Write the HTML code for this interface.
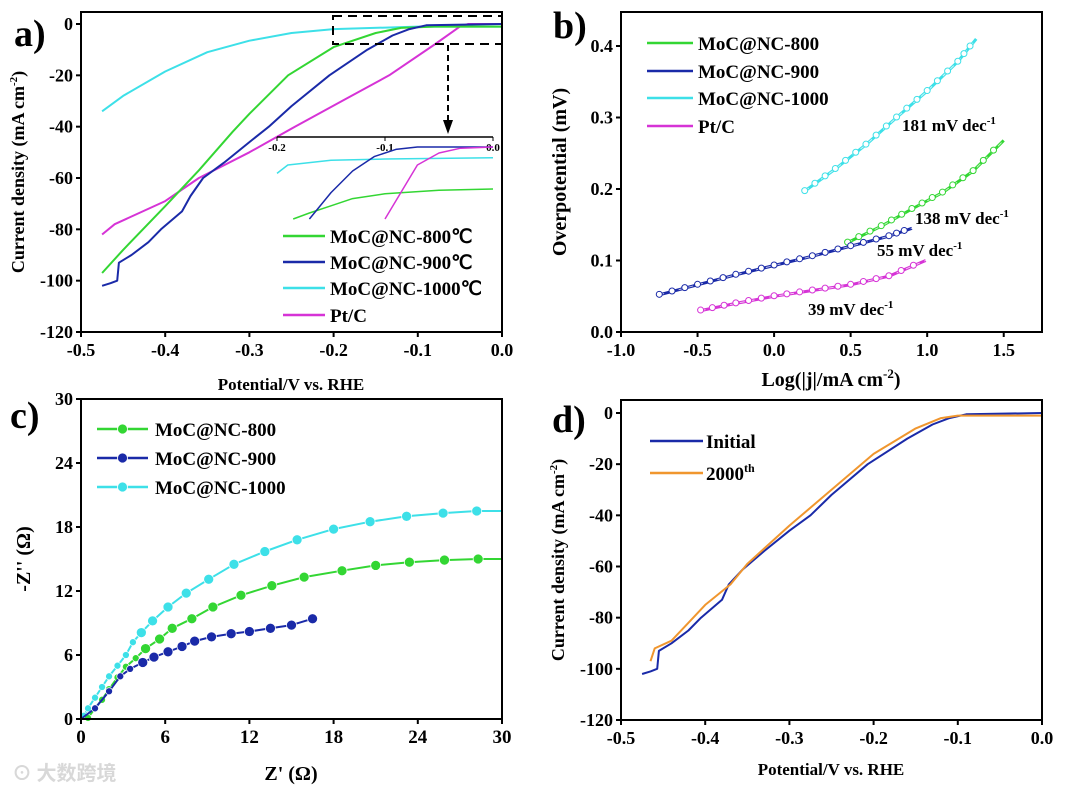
<!DOCTYPE html>
<html><head><meta charset="utf-8"><style>
html,body{margin:0;padding:0;background:#fff}
svg{display:block;font-family:"Liberation Serif",serif;font-weight:bold}
</style></head><body>
<svg id="s" width="1080" height="791" viewBox="0 0 1080 791" xmlns="http://www.w3.org/2000/svg"></svg>
<script>
// ---- Panel a data ----
const aGreenX=[-0.475,-0.45,-0.4,-0.36,-0.32,-0.3,-0.254,-0.2,-0.15,-0.12,-0.08,0];
const aGreenY=[-97,-88,-71,-57,-42,-35,-20,-9,-3.5,-1.5,-1,-1];
const aBlueX=[-0.475,-0.465,-0.457,-0.455,-0.44,-0.42,-0.405,-0.38,-0.37,-0.355,-0.33,-0.3,-0.277,-0.25,-0.205,-0.16,-0.13,-0.11,-0.09,0];
const aBlueY=[-102,-101,-100,-93,-90,-85,-80,-73,-67,-60,-54,-46,-40,-32,-20,-10,-4.5,-2,-0.5,0];
const aCyanX=[-0.475,-0.45,-0.4,-0.35,-0.3,-0.25,-0.2,-0.1,0];
const aCyanY=[-34,-28,-18.5,-11,-6.5,-3.5,-2,-1,-1];
const aPtX=[-0.475,-0.46,-0.44,-0.4,-0.36,-0.3,-0.246,-0.19,-0.134,-0.08,-0.05,-0.04,0];
const aPtY=[-82,-78,-75,-69,-60,-50,-40,-30,-20,-8,-1,0,0];
const aXTicks=[-0.5,-0.4,-0.3,-0.2,-0.1,0.0];
const aXLabels=["-0.5","-0.4","-0.3","-0.2","-0.1","0.0"];
const aYTicks=[0,-20,-40,-60,-80,-100,-120];
// inset
const inBlueX=[-0.17,-0.15,-0.13,-0.11,-0.09,-0.07,0];
const inBlueY=[-6,-3.8,-2,-0.8,-0.2,0,0];
const inCyanX=[-0.2,-0.19,-0.15,-0.1,0];
const inCyanY=[-2.2,-1.5,-1.1,-1,-0.9];
const inGreenX=[-0.185,-0.17,-0.15,-0.13,-0.1,-0.05,0];
const inGreenY=[-6,-5.5,-4.9,-4.3,-3.9,-3.6,-3.5];
const inPtX=[-0.1,-0.09,-0.08,-0.07,-0.05,-0.03,0];
const inPtY=[-6,-4.5,-3,-1.5,-0.5,-0.1,0];
// ---- Panel b data ----
const bCyanX=[0.2,0.4,0.6,0.8,1.0,1.2,1.32];
const bCyanY=[0.197,0.228,0.262,0.300,0.337,0.378,0.41];
const bGreenX=[0.48,0.7,0.9,1.1,1.3,1.5];
const bGreenY=[0.125,0.148,0.172,0.195,0.225,0.268];
const bBlueX=[-0.75,-0.5,-0.25,0,0.25,0.5,0.75,0.9];
const bBlueY=[0.052,0.066,0.08,0.093,0.106,0.12,0.134,0.145];
const bPtX=[-0.48,-0.25,0,0.25,0.5,0.75,0.99];
const bPtY=[0.03,0.04,0.05,0.058,0.066,0.078,0.1];
const bXTicks=[-1.0,-0.5,0.0,0.5,1.0,1.5];
const bYTicks=[0.0,0.1,0.2,0.3,0.4];
// ---- Panel c data ----
const cCyanX=[0.2,0.5,1,1.5,2,2.6,3.2,3.7,4.3,5.1,6.2,7.5,9.1,10.9,13.1,15.4,18,20.6,23.2,25.8,28.2];
const cCyanY=[0.3,1,2,3,4,5,6,7.2,8.1,9.2,10.5,11.8,13.1,14.5,15.7,16.8,17.8,18.5,19,19.3,19.5];
const cGreenX=[0.5,1,1.5,2,2.6,3.2,3.9,4.6,5.6,6.5,7.9,9.4,11.4,13.6,15.9,18.6,21,23.4,25.9,28.3];
const cGreenY=[0.1,1,1.8,2.8,3.9,4.9,5.7,6.6,7.5,8.5,9.4,10.5,11.6,12.5,13.3,13.9,14.4,14.7,14.9,15];
const cBlueX=[1,2,2.8,3.5,4.4,5.2,6.2,7.2,8.1,9.3,10.7,12,13.5,15,16.5];
const cBlueY=[1,2.6,4,4.7,5.3,5.8,6.3,6.8,7.3,7.7,8,8.2,8.5,8.8,9.4];
const cTicks=[0,6,12,18,24,30];
// ---- Panel d data ----
const dInitX=[-0.475,-0.465,-0.457,-0.455,-0.44,-0.42,-0.405,-0.38,-0.372,-0.355,-0.33,-0.3,-0.275,-0.25,-0.207,-0.16,-0.13,-0.11,-0.09,0];
const dInitY=[-102,-101,-100,-93,-90,-85,-80,-73,-67,-61,-54,-46,-40,-32,-20,-10,-4.5,-2,-0.5,0];
const dCycX=[-0.465,-0.46,-0.44,-0.42,-0.4,-0.37,-0.35,-0.3,-0.25,-0.2,-0.15,-0.12,-0.1,0];
const dCycY=[-97,-92,-89,-82,-75,-67,-59,-44,-30,-16,-6,-2,-1,-1];

const NS="http://www.w3.org/2000/svg";
const svg=document.getElementById('s');
function mk(tag,attrs,parent){const e=document.createElementNS(NS,tag);for(const k in attrs)e.setAttribute(k,attrs[k]);(parent||svg).appendChild(e);return e;}
function txt(x,y,s,size,anchor,parent){const t=mk('text',{x:x,y:y,'font-size':size,'text-anchor':anchor||'start'},parent);t.textContent=s;return t;}
function scale(d0,d1,r0,r1){return v=>r0+(v-d0)/(d1-d0)*(r1-r0);}
function line(X,Y,sx,sy,color,w,name,extra){
  const d=X.map((x,i)=>(i?'L':'M')+sx(x).toFixed(1)+','+sy(Y[i]).toFixed(1)).join('');
  const p=mk('path',Object.assign({d:d,fill:'none',stroke:color,'stroke-width':w,'stroke-linejoin':'round'},extra||{}));
  
  
  return p;
}
function frame(L,R,T,B,name){
  const r=mk('rect',{x:L,y:T,width:R-L,height:B-T,fill:'none',stroke:'#000','stroke-width':2});
  
  
}
function xaxis(ticks,labels,sx,B,size){
  ticks.forEach((t,i)=>{mk('line',{x1:sx(t),x2:sx(t),y1:B,y2:B+5,stroke:'#000','stroke-width':2});
    const l=txt(sx(t),B+24,labels[i],size||18,'middle');
    
    });
}
function yaxis(ticks,labels,sy,L){
  ticks.forEach((t,i)=>{mk('line',{x1:L-5,x2:L,y1:sy(t),y2:sy(t),stroke:'#000','stroke-width':2});
    const l=txt(L-8,sy(t)+6,labels[i],18,'end');
    
    });
}
function legend(x1,x2,y,color,label,tx,size,marker){
  const g=mk('g',{});
  
  
  mk('line',{x1:x1,x2:x2,y1:y,y2:y,stroke:color,'stroke-width':2.5},g);
  if(marker) mk('circle',{cx:(x1+x2)/2,cy:y,r:5,fill:color,stroke:'#fff','stroke-width':0.8},g);
  txt(tx,y+7,label,size||19,'start',g);
  return g;
}
function ytitle(x,y,s,size){const t=txt(0,0,s,size||18,'middle');t.setAttribute('transform',`translate(${x},${y}) rotate(-90)`);return t;}

// ===== Panel a =====
{const L=81,R=502,T=12,B=332;
 const sx=scale(-0.5,0,L,R), sy=scale(0,-120,24,B);
 line(aCyanX,aCyanY,sx,sy,'#3de0e8',2,'series-moc-1000');
 line(aPtX,aPtY,sx,sy,'#d633d6',2,'series-ptc');
 line(aGreenX,aGreenY,sx,sy,'#33d633',2,'series-moc-800');
 line(aBlueX,aBlueY,sx,sy,'#1a2aa8',2,'series-moc-900');
 // inset
 const ix=scale(-0.2,0,277,493), iy=scale(0,-6,147,219);
 mk('line',{x1:277,x2:493,y1:137,y2:137,stroke:'#000','stroke-width':1.5});
 [-0.2,-0.1,0].forEach((t,i)=>{mk('line',{x1:ix(t),x2:ix(t),y1:137,y2:141,stroke:'#000','stroke-width':1});
   txt(ix(t),151,["-0.2","-0.1","0.0"][i],11,'middle');});
 line(inCyanX,inCyanY,ix,iy,'#3de0e8',1.5,'inset-moc-1000');
 line(inGreenX,inGreenY,ix,iy,'#33d633',1.5,'inset-moc-800');
 line(inBlueX,inBlueY,ix,iy,'#1a2aa8',1.5,'inset-moc-900');
 line(inPtX,inPtY,ix,iy,'#d633d6',1.5,'inset-ptc');
 const db=mk('rect',{x:333,y:16,width:169,height:28,fill:'none',stroke:'#000','stroke-width':2,'stroke-dasharray':'9,6'});
 
 
 mk('line',{x1:448,x2:448,y1:45,y2:122,stroke:'#000','stroke-width':2,'stroke-dasharray':'6,4'});
 mk('polygon',{points:'443,120 453,120 448,134',fill:'#000'});
 frame(L,R,T,B,'plot-area-a');
 xaxis(aXTicks,aXLabels,sx,B);
 yaxis(aYTicks,aYTicks.map(String),sy,L);
 legend(283,325,236,'#33d633','MoC@NC-800℃',330);
 legend(283,325,262,'#1a2aa8','MoC@NC-900℃',330);
 legend(283,325,288,'#3de0e8','MoC@NC-1000℃',330);
 legend(283,325,315,'#d633d6','Pt/C',330);
 txt(291,390,'Potential/V vs. RHE',17,'middle');
 const yt=ytitle(24,172,'',18);yt.innerHTML='Current density (mA cm<tspan dy="-7" font-size="11">-2</tspan><tspan dy="7">)</tspan>';
 txt(14,46,'a)',38,'start');
}
// ===== Panel b =====
{const L=621,R=1042,T=12,B=332;
 const sx=scale(-1,1.75,L,R), sy=scale(0,0.4,B,46);
 [[bCyanX,bCyanY,'#3de0e8','moc-1000'],[bGreenX,bGreenY,'#33d633','moc-800'],[bBlueX,bBlueY,'#1a2aa8','moc-900'],[bPtX,bPtY,'#d633d6','ptc']].forEach(s=>{
   line(s[0],s[1],sx,sy,s[2],3,'tafel-'+s[3]);
   line(s[0],s[1],sx,sy,'#ffffff',1,'tafel-fit-'+s[3],{'stroke-dasharray':'5,5','opacity':0.7});
   const n=s[0].length;
   for(let i=0;i<n-1;i++){for(let k=0;k<3;k++){const f=k/3;
     const c=mk('circle',{cx:sx(s[0][i]+(s[0][i+1]-s[0][i])*f),cy:sy(s[1][i]+(s[1][i+1]-s[1][i])*f)-0.5,r:3,fill:'#fff',stroke:s[2],'stroke-width':1});
     
     }}
 });
 frame(L,R,T,B,'plot-area-b');
 xaxis(bXTicks,["-1.0","-0.5","0.0","0.5","1.0","1.5"],sx,B);
 yaxis(bYTicks,["0.0","0.1","0.2","0.3","0.4"],sy,L);
 legend(647,693,43,'#33d633','MoC@NC-800',698);
 legend(647,693,71,'#1a2aa8','MoC@NC-900',698);
 legend(647,693,98,'#3de0e8','MoC@NC-1000',698);
 legend(647,693,126,'#d633d6','Pt/C',698);
 const ann=[[902,131,'181'],[915,224,'138'],[877,256,'55'],[808,315,'39']];
 ann.forEach(a=>{const t=txt(a[0],a[1],'',17,'start');t.innerHTML=a[2]+' mV dec<tspan dy="-7" font-size="11">-1</tspan>';
   
   });
 const xt=txt(831,386,'',20,'middle');xt.innerHTML='Log(|j|/mA cm<tspan dy="-8" font-size="13">-2</tspan><tspan dy="8">)</tspan>';
 ytitle(566,172,'Overpotential (mV)',20);
 txt(553,38,'b)',38,'start');
}
// ===== Panel c =====
{const L=81,R=502,T=399,B=719;
 const sx=scale(0,30,L,R), sy=scale(0,30,B,T);
 [[cCyanX,cCyanY,'#3de0e8','moc-1000'],[cGreenX,cGreenY,'#33d633','moc-800'],[cBlueX,cBlueY,'#1a2aa8','moc-900']].forEach(s=>{
   line([0].concat(s[0]).concat(s[3]==='moc-900'?[]:[30]),[0].concat(s[1]).concat(s[3]==='moc-900'?[]:[s[1][s[1].length-1]]),sx,sy,s[2],2,'nyquist-'+s[3]);
   s[0].forEach((x,i)=>{const c=mk('circle',{cx:sx(x),cy:sy(s[1][i]),r:x<4?3.5:5,fill:s[2],stroke:'#fff','stroke-width':0.7});
     
     });
 });
 frame(L,R,T,B,'plot-area-c');
 xaxis(cTicks,cTicks.map(String),sx,B,19);
 yaxis(cTicks,cTicks.map(String),sy,L);
 legend(97,148,429,'#33d633','MoC@NC-800',155,19,true);
 legend(97,148,458,'#1a2aa8','MoC@NC-900',155,19,true);
 legend(97,148,487,'#3de0e8','MoC@NC-1000',155,19,true);
 txt(291,780,"Z' (Ω)",20,'middle');
 ytitle(30,559,"-Z'' (Ω)",20);
 txt(10,428,'c)',38,'start');
 const w=txt(12,780,'⊙ 大数跨境',20,'start');w.setAttribute('font-family','"Noto Sans CJK SC",sans-serif');w.setAttribute('fill','#d8d8d8');
 
 
}
// ===== Panel d =====
{const L=621,R=1042,T=400,B=720;
 const sx=scale(-0.5,0,L,R), sy=scale(0,-120,413,B);
 line(dInitX,dInitY,sx,sy,'#1a2aa8',2,'series-initial');
 line(dCycX,dCycY,sx,sy,'#f0962e',2,'series-2000th');
 frame(L,R,T,B,'plot-area-d');
 xaxis(aXTicks,aXLabels,sx,B);
 yaxis(aYTicks,aYTicks.map(String),sy,L);
 legend(650,703,441,'#1a2aa8','Initial',706);
 const g=legend(650,703,473,'#f0962e','',706);
 const t=txt(706,480,'',19,'start',g);t.innerHTML='2000<tspan dy="-8" font-size="12">th</tspan>';
 txt(831,775,'Potential/V vs. RHE',17,'middle');
 const yt=ytitle(564,560,'',18);yt.innerHTML='Current density (mA cm<tspan dy="-7" font-size="11">-2</tspan><tspan dy="7">)</tspan>';
 txt(552,432,'d)',38,'start');
}
</script>
</body></html>
